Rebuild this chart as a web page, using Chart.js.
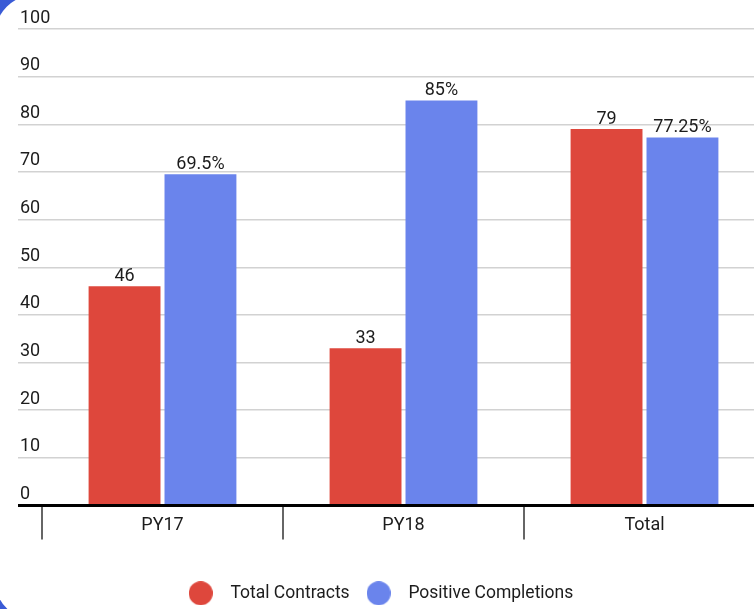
<!DOCTYPE html>
<html><head><meta charset="utf-8">
<script src="https://cdn.jsdelivr.net/npm/chart.js@4.4.0/dist/chart.umd.min.js"></script>
<style>
html,body{margin:0;padding:0;width:754px;height:609px;overflow:hidden;background:#3a5bd6;}
#frame{position:absolute;left:-5px;top:-5px;width:900px;height:625px;background:#fff;border-radius:40px;}
#wrap{position:absolute;left:0;top:0;width:800px;height:609px;}
</style></head><body>
<div id="frame"></div>
<div id="wrap"><canvas id="c" width="800" height="609"></canvas></div>
<script>
const categories = ['PY17', 'PY18', 'Total'];
const totalContracts = [46, 33, 79];
const positiveCompletions = [69.5, 85, 77.25];
const seriesNames = ['Total Contracts', 'Positive Completions'];
const labelSuffixes = ['', '%'];
const seriesColors = ['#de473c', '#6a84ec'];
const yMin = 0, yMax = 100, yStep = 10;

const FONT = 'Roboto, "Noto Sans", sans-serif';
const TEXT = '#1c1c1c';

function circleImage(color) {
  const c = document.createElement('canvas');
  c.width = 24; c.height = 24;
  const g = c.getContext('2d');
  g.fillStyle = color;
  g.beginPath(); g.arc(12, 12, 12, 0, Math.PI * 2); g.fill();
  return c;
}
const legendImages = seriesColors.map(circleImage);

const valueLabels = {
  id: 'valueLabels',
  afterDatasetsDraw(chart) {
    const ctx = chart.ctx;
    ctx.save();
    ctx.font = '18px ' + FONT;
    ctx.fillStyle = TEXT;
    ctx.textAlign = 'center';
    ctx.textBaseline = 'middle';
    chart.data.datasets.forEach((ds, i) => {
      const meta = chart.getDatasetMeta(i);
      meta.data.forEach((bar, j) => {
        ctx.fillText(String(ds.data[j]) + labelSuffixes[i], bar.x, bar.y - 10);
      });
    });
    ctx.restore();
  }
};

new Chart(document.getElementById('c'), {
  type: 'bar',
  data: {
    labels: categories,
    datasets: [
      { label: seriesNames[0], data: totalContracts, backgroundColor: seriesColors[0] },
      { label: seriesNames[1], data: positiveCompletions, backgroundColor: seriesColors[1] }
    ]
  },
  options: {
    responsive: false,
    animation: false,
    devicePixelRatio: 1,
    categoryPercentage: 0.63,
    barPercentage: 0.947,
    layout: { padding: { left: -12, right: 35, top: 29, bottom: -3 } },
    plugins: {
      tooltip: { enabled: false },
      legend: {
        position: 'bottom',
        labels: {
          usePointStyle: true,
          pointStyleWidth: 42,
          padding: 8,
          color: TEXT,
          font: { family: FONT, size: 17.5 },
          generateLabels(chart) {
            const items = Chart.defaults.plugins.legend.labels.generateLabels(chart);
            items.forEach((it, i) => { it.pointStyle = legendImages[i]; });
            return items;
          }
        }
      }
    },
    scales: {
      x: {
        z: 1,
        afterFit(scale) { scale.height = 71; },
        border: { display: true, color: '#000', width: 3 },
        grid: { offset: true, drawOnChartArea: false, drawTicks: true, tickLength: 34, color: '#666', lineWidth: 2 },
        ticks: { color: TEXT, font: { family: FONT, size: 18 }, padding: -25 }
      },
      y: {
        min: yMin, max: yMax,
        afterFit(scale) { scale.width = 54; },
        border: { display: false },
        grid: {
          drawTicks: true, tickLength: 24,
          color: (c) => c.tick && c.tick.value === 0 ? '#000' : '#d2d2d2',
          lineWidth: (c) => c.tick && c.tick.value === 0 ? 3 : 1.5
        },
        ticks: {
          stepSize: yStep, mirror: true, padding: -22, labelOffset: -11,
          color: TEXT, font: { family: FONT, size: 18 }
        }
      }
    }
  },
  plugins: [valueLabels]
});
</script>
</body></html>
